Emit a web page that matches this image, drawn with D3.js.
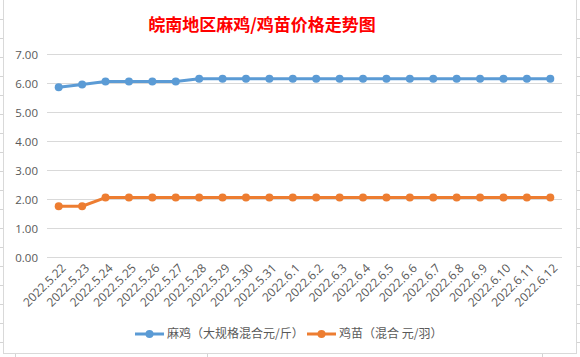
<!DOCTYPE html>
<html><head><meta charset="utf-8">
<script src="https://cdn.jsdelivr.net/npm/d3@7"></script>
<style>body{margin:0;background:#fff;}svg{display:block;}</style>
</head><body>
<svg id="c" width="580" height="357"></svg>
<script>
const categories = ["2022.5.22","2022.5.23","2022.5.24","2022.5.25","2022.5.26","2022.5.27","2022.5.28","2022.5.29","2022.5.30","2022.5.31","2022.6.1","2022.6.2","2022.6.3","2022.6.4","2022.6.5","2022.6.6","2022.6.7","2022.6.8","2022.6.9","2022.6.10","2022.6.11","2022.6.12"];
const maji = [5.85,5.95,6.05,6.05,6.05,6.05,6.15,6.15,6.15,6.15,6.15,6.15,6.15,6.15,6.15,6.15,6.15,6.15,6.15,6.15,6.15,6.15];
const jimiao = [1.75,1.75,2.05,2.05,2.05,2.05,2.05,2.05,2.05,2.05,2.05,2.05,2.05,2.05,2.05,2.05,2.05,2.05,2.05,2.05,2.05,2.05];
const yTicks = [0,1,2,3,4,5,6,7];
const seriesNames = ["麻鸡（大规格混合元/斤）","鸡苗（混合 元/羽）"];
const title = "皖南地区麻鸡/鸡苗价格走势图";

const svg = d3.select("#c");
const font = "'Open Sans','Noto Sans',sans-serif";
const cjk = "'Noto Sans CJK SC',sans-serif";

// spreadsheet background lines outside chart
const rowYs = d3.range(19, 357, 19);
svg.selectAll("line.rowL").data(rowYs).join("line")
  .attr("x1",0).attr("x2",3).attr("y1",d=>d+0.5).attr("y2",d=>d+0.5).attr("stroke","#d4d4d4");
svg.selectAll("line.rowR").data(rowYs).join("line")
  .attr("x1",577).attr("x2",580).attr("y1",d=>d+0.5).attr("y2",d=>d+0.5).attr("stroke","#d4d4d4");
[15,207,542].forEach(x=>svg.append("line").attr("x1",x+0.5).attr("x2",x+0.5).attr("y1",354).attr("y2",357).attr("stroke","#d4d4d4"));
[130,312,466].forEach(x=>svg.append("line").attr("x1",x+0.5).attr("x2",x+0.5).attr("y1",0).attr("y2",2).attr("stroke","#d4d4d4"));

// chart border
svg.append("rect").attr("x",3.5).attr("y",-1).attr("width",573).attr("height",354.5)
  .attr("fill","#fff").attr("stroke","#d9d9d9");

const x = d3.scaleBand().domain(categories).range([47,562]);
const y = d3.scaleLinear().domain([0,7]).range([257,54]);

// gridlines
svg.append("g").selectAll("line").data(yTicks).join("line")
  .attr("x1",47).attr("x2",562).attr("y1",d=>Math.round(y(d))+0.5).attr("y2",d=>Math.round(y(d))+0.5)
  .attr("stroke","#d9d9d9");

// y axis
const yAxis = d3.axisLeft(y).tickValues(yTicks).tickFormat(d3.format(".2f")).tickSize(0).tickPadding(0);
const gy = svg.append("g").attr("transform","translate(38,0)").call(yAxis);
gy.select(".domain").remove();
gy.selectAll("text").attr("font-family",font).attr("font-size","11.5px").attr("fill","#595959").attr("dy","0.35em");

// x axis
const xAxis = d3.axisBottom(x).tickSize(0).tickPadding(0);
const gx = svg.append("g").attr("transform","translate(0,266)").call(xAxis);
gx.select(".domain").remove();
gx.selectAll("text").attr("font-family",font).attr("font-size","12px").attr("fill","#595959")
  .attr("text-anchor","end").attr("dy","0.35em").attr("transform","translate(5,0) rotate(-45)");

// title
svg.append("text").attr("x",262).attr("y",31).attr("text-anchor","middle")
  .attr("font-family",cjk).attr("font-weight","bold").attr("font-size","17px").attr("fill","#ff0000").text(title);

const colors = ["#5b9bd5","#ed7d31"];
const line = d3.line().x((d,i)=>x(categories[i])+x.bandwidth()/2).y(d=>y(d));
[maji, jimiao].forEach((s,k)=>{
  svg.append("path").datum(s).attr("d",line).attr("fill","none").attr("stroke",colors[k])
    .attr("stroke-width",3).attr("stroke-linejoin","round");
  svg.append("g").selectAll("circle").data(s).join("circle")
    .attr("cx",(d,i)=>x(categories[i])+x.bandwidth()/2).attr("cy",d=>y(d)).attr("r",4).attr("fill",colors[k]);
});

// legend
const legX = [135,307];
seriesNames.forEach((n,k)=>{
  const g = svg.append("g").attr("transform",`translate(${legX[k]},334)`);
  g.append("line").attr("x1",0).attr("x2",29).attr("y1",0).attr("y2",0).attr("stroke",colors[k]).attr("stroke-width",3);
  g.append("circle").attr("cx",14.5).attr("cy",0).attr("r",4).attr("fill",colors[k]);
  g.append("text").attr("x",32).attr("y",0).attr("dy","0.35em").attr("font-family",cjk)
    .attr("font-size","12px").attr("fill","#595959").text(n);
});
</script>
</body></html>
